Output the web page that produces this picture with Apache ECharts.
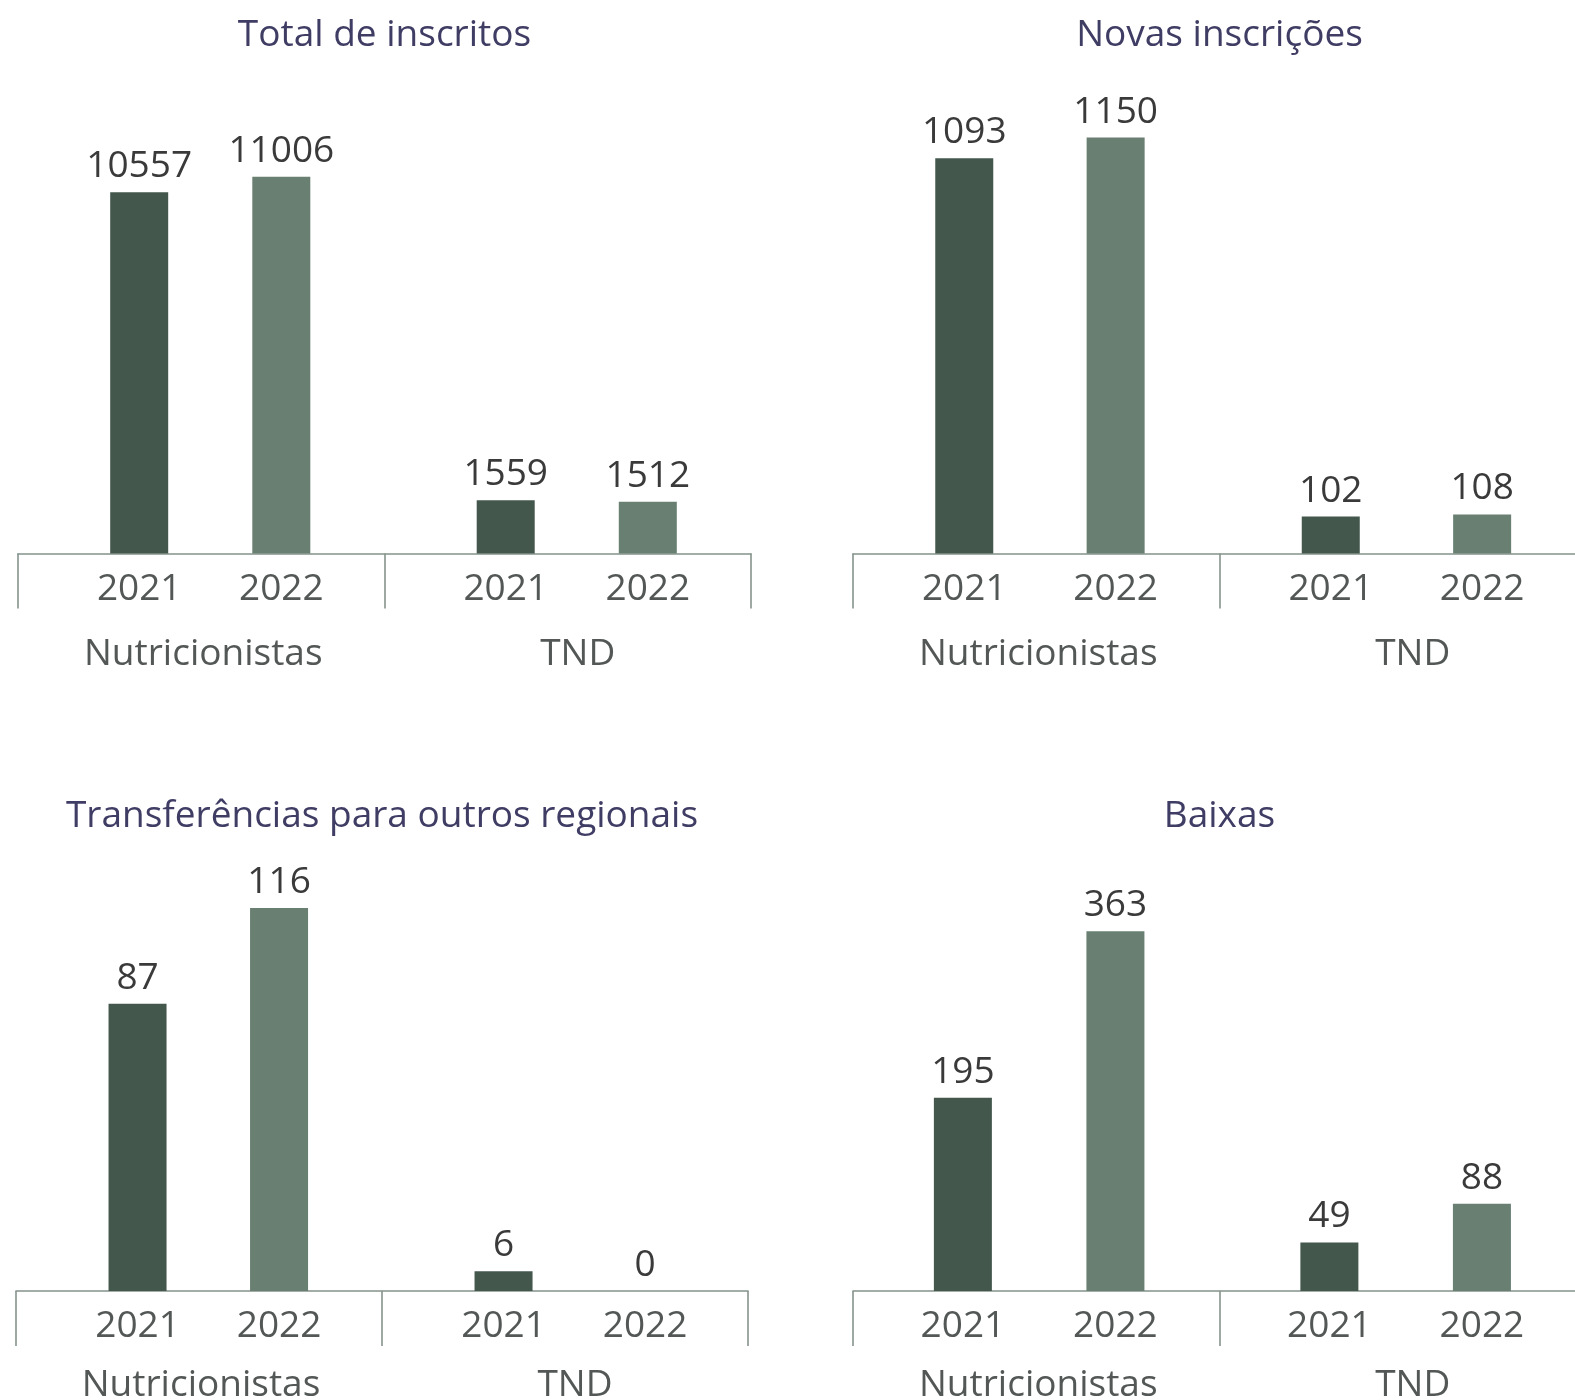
<!DOCTYPE html>
<html>
<head>
<meta charset="utf-8">
<script src="https://cdn.jsdelivr.net/npm/echarts@6/dist/echarts.min.js"></script>
<style>
  html, body { margin: 0; padding: 0; background: #ffffff; }
  #chart { width: 1575px; height: 1400px; }
</style>
</head>
<body>
<div id="chart"></div>
<script>
// ---- data ----
const years = ['2021', '2022'];
const groups = ['Nutricionistas', 'TND'];
const titles = ['Total de inscritos', 'Novas inscrições', 'Transferências para outros regionais', 'Baixas'];
const total2021 = [10557, 1559];
const total2022 = [11006, 1512];
const novas2021 = [1093, 102];
const novas2022 = [1150, 108];
const transf2021 = [87, 6];
const transf2022 = [116, 0];
const baixas2021 = [195, 49];
const baixas2022 = [363, 88];
const values2021 = [total2021, novas2021, transf2021, baixas2021];
const values2022 = [total2022, novas2022, transf2022, baixas2022];

// ---- layout (positions / styles) ----
const panels = [
  { left: 18,  width: 733, top: 100, height: 453.5, max: 13250, barShift: 9,   barGap: '145%', groupMargin: 79, titleX: 384.5,  titleTop: 13 },
  { left: 853, width: 733, top: 100, height: 453.5, max: 1254,  barShift: 3.7, barGap: '161%', groupMargin: 79, titleX: 1219.5, titleTop: 13 },
  { left: 16,  width: 732, top: 850, height: 441,   max: 133.6, barShift: 9.3, barGap: '144%', groupMargin: 72, titleX: 382,    titleTop: 794 },
  { left: 853, width: 733, top: 850, height: 441,   max: 444.9, barShift: 2.9, barGap: '163%', groupMargin: 72, titleX: 1219.5, titleTop: 794 }
];
const groupLabelPad = [4, 20];   // left padding of group labels (nudges text right)
const colors = ['#43574d', '#687f72'];
const axisColor = '#85938b';
const FONT = 'Open Sans';
const FS = 37;
const LH = 44;

const option = {
  animation: false,
  backgroundColor: '#ffffff',
  title: [],
  grid: [],
  xAxis: [],
  yAxis: [],
  series: []
};

// axis grids (0..3)
panels.forEach((p, i) => {
  option.title.push({
    text: titles[i],
    left: p.titleX,
    top: p.titleTop,
    textAlign: 'center',
    padding: 0,
    textStyle: { fontFamily: FONT, fontSize: FS, fontWeight: 'normal', color: '#403d65', lineHeight: LH }
  });
  option.grid.push({
    left: p.left, top: p.top, width: p.width, height: p.height,
    containLabel: false, outerBoundsMode: 'none'
  });
  option.xAxis.push({
    type: 'category',
    gridIndex: i,
    data: groups.map((g, j) => ({ value: g, textStyle: { padding: [0, 0, 0, groupLabelPad[j]] } })),
    boundaryGap: true,
    axisLine: { show: true, lineStyle: { color: axisColor, width: 1.6 } },
    axisTick: { show: true, interval: 0, length: 55, lineStyle: { color: axisColor, width: 1.6 } },
    axisLabel: { interval: 0, margin: p.groupMargin, fontFamily: FONT, fontSize: FS, color: '#535856', lineHeight: LH },
    splitLine: { show: false }
  });
  option.yAxis.push({ type: 'value', gridIndex: i, min: 0, max: p.max, show: false, splitLine: { show: false } });
});

// bar grids (4..7)
panels.forEach((p, i) => {
  const gi = 4 + i;
  option.grid.push({
    left: p.left + p.barShift, top: p.top, width: p.width, height: p.height,
    containLabel: false, outerBoundsMode: 'none'
  });
  option.xAxis.push({ type: 'category', gridIndex: gi, data: groups, boundaryGap: true, show: false });
  option.yAxis.push({ type: 'value', gridIndex: gi, min: 0, max: p.max, show: false, splitLine: { show: false } });
  const vals = [values2021[i], values2022[i]];
  years.forEach((y, k) => {
    // zero-height base bar carrying the year label under the axis
    option.series.push({
      type: 'bar', name: y + ' label', xAxisIndex: gi, yAxisIndex: gi,
      stack: 'p' + i + 'y' + k, barWidth: 58, barGap: p.barGap,
      data: vals[k].map(() => 0),
      itemStyle: { color: 'rgba(0,0,0,0)' },
      silent: true,
      label: {
        show: true, position: 'bottom', distance: 13.5, formatter: y,
        fontFamily: FONT, fontSize: FS, color: '#535856', lineHeight: LH
      }
    });
    option.series.push({
      type: 'bar', name: y, xAxisIndex: gi, yAxisIndex: gi,
      stack: 'p' + i + 'y' + k, barWidth: 58, barGap: p.barGap,
      data: vals[k],
      itemStyle: { color: colors[k] },
      label: {
        show: true, position: 'top', distance: 3.5,
        fontFamily: FONT, fontSize: FS, color: '#3a3a3a', lineHeight: LH
      }
    });
  });
});

const chart = echarts.init(document.getElementById('chart'));
chart.setOption(option);
</script>
</body>
</html>
